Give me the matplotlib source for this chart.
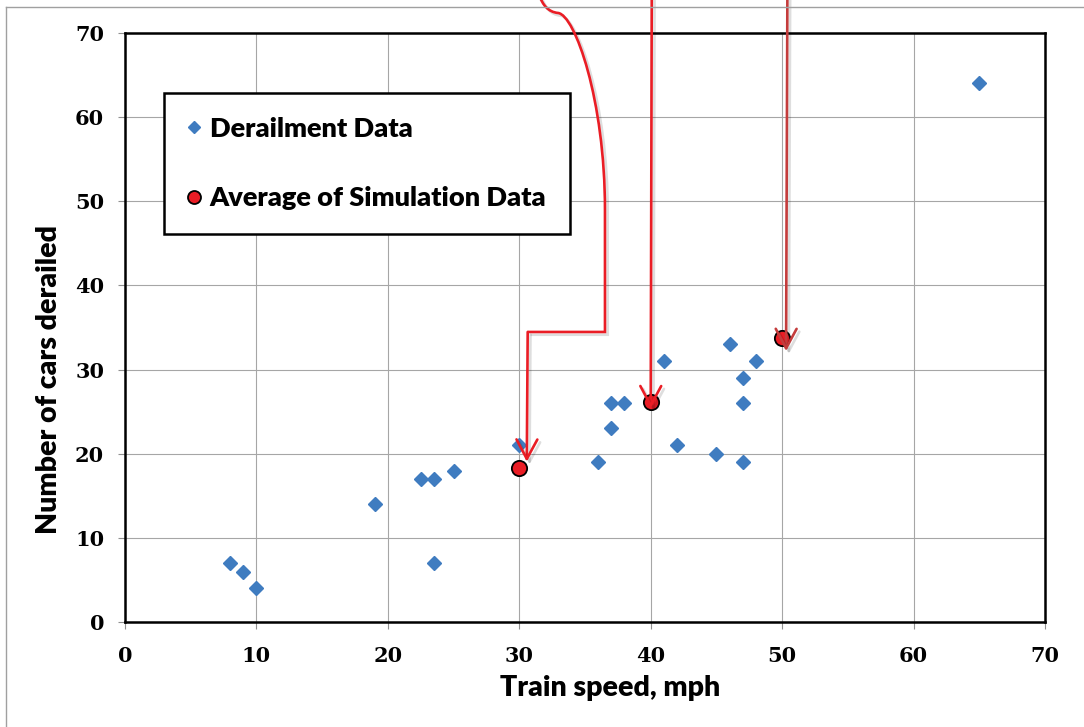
import matplotlib
matplotlib.use("Agg")
import matplotlib.pyplot as plt
import matplotlib.patheffects as pe
from matplotlib.path import Path
from matplotlib.patches import PathPatch
from matplotlib.lines import Line2D

# Datos
vel_descarrilo = [8, 9, 10, 19, 22.5, 23.5, 23.5, 25, 30, 36, 37, 37, 38, 41, 42, 45, 46, 47, 47, 47, 48, 65]
vagones_descarrilo = [7, 6, 4, 14, 17, 17, 7, 18, 21, 19, 26, 23, 26, 31, 21, 20, 33, 29, 26, 19, 31, 64]

vel_simulacion = [30, 40, 50]
vagones_simulacion = [18.3, 26.2, 33.7]

# Desplazamiento de la punta de cada flecha respecto a su punto
desp_flechas = [(0.57, 0.75), (0.0, -0.8), (0.3, -1.5)]

ticks = [0, 10, 20, 30, 40, 50, 60, 70]

AZUL = "#3f7cc0"
ROJO = "#ea1d25"
ROJO_OSCURO = "#c43c3c"

fig = plt.figure(figsize=(10.84, 7.27), dpi=100)
ax = fig.add_axes([125 / 1084, 1 - 622 / 727, 920 / 1084, 589 / 727])

ax.set_xlim(0, 70)
ax.set_ylim(0, 70)
ax.set_xticks(ticks)
ax.set_yticks(ticks)
ax.grid(True, color="#a6a6a6", linewidth=0.8)
ax.set_axisbelow(True)
for s in ax.spines.values():
    s.set_linewidth(1.8)
    s.set_color("black")
ax.tick_params(direction="out", length=5, width=0.8, color="#909090")
ax.tick_params(axis="x", pad=12)
ax.tick_params(axis="y", pad=10)
for lab in ax.get_xticklabels() + ax.get_yticklabels():
    lab.set_family("DejaVu Serif")
    lab.set_fontweight("bold")
    lab.set_fontsize(15)

ax.set_xlabel("Train speed, mph", family="Lato", fontweight="heavy", fontsize=20.5)
ax.set_ylabel("Number of cars derailed", family="Lato", fontweight="heavy", fontsize=20.5)
ax.xaxis.set_label_coords(0.527, -0.09)
ax.yaxis.set_label_coords(-0.068, 0.411)

ax.plot(vel_descarrilo, vagones_descarrilo, linestyle="none", marker="D", ms=7.5,
        color=AZUL, mec=AZUL, label="Derailment Data", zorder=3)
ax.plot(vel_simulacion, vagones_simulacion, linestyle="none", marker="o", ms=11,
        color=ROJO, mec="black", mew=1.3, label="Average of Simulation Data", zorder=4)

sombra = [pe.SimpleLineShadow(offset=(2, -2), alpha=0.13), pe.Normal()]

# Flecha 1: baja curvada desde arriba y hace escalon
codigos = [Path.MOVETO, Path.CURVE4, Path.CURVE4, Path.CURVE4,
           Path.CURVE4, Path.CURVE4, Path.CURVE4, Path.LINETO, Path.LINETO]
verts = [(31.50, 74.5), (31.80, 73.33), (32.18, 72.50), (32.95, 72.38),
         (34.24, 72.14), (36.52, 62.04), (36.52, 48.97), (36.52, 34.47), (30.64, 34.47)]
ax.add_patch(PathPatch(Path(verts, codigos), fill=False, edgecolor=ROJO, lw=1.9,
                       clip_on=False, zorder=5, path_effects=sombra))

origenes = [(30.64, 34.47), (40.08, 75), (50.4, 75)]
colores = [ROJO, ROJO, ROJO_OSCURO]
for (x, y), (dx, dy), org, c in zip(zip(vel_simulacion, vagones_simulacion), desp_flechas, origenes, colores):
    ax.annotate("", xy=(x + dx, y + dy), xytext=org, annotation_clip=False,
                arrowprops=dict(arrowstyle="->,head_length=1.4,head_width=0.75", color=c, lw=1.9,
                                shrinkA=0, shrinkB=0, path_effects=sombra), zorder=5)

leg = ax.legend(loc="upper left", bbox_to_anchor=(0.0424, 0.898), borderaxespad=0,
                prop={"family": "Lato", "weight": "heavy", "size": 19.5},
                frameon=True, fancybox=False, edgecolor="black", framealpha=1,
                borderpad=0.88, labelspacing=1.67, handlelength=0.45, handletextpad=0.35,
                markerscale=0.85)
leg.get_frame().set_linewidth(1.8)

# marco gris exterior
fig.add_artist(Line2D([5.5 / 1084, 5.5 / 1084], [0, 1 - 6.7 / 727], color="#a0a0a0", lw=1))
fig.add_artist(Line2D([5.5 / 1084, 1], [1 - 6.7 / 727, 1 - 6.7 / 727], color="#a0a0a0", lw=1))

fig.savefig("out.png", dpi=100)
